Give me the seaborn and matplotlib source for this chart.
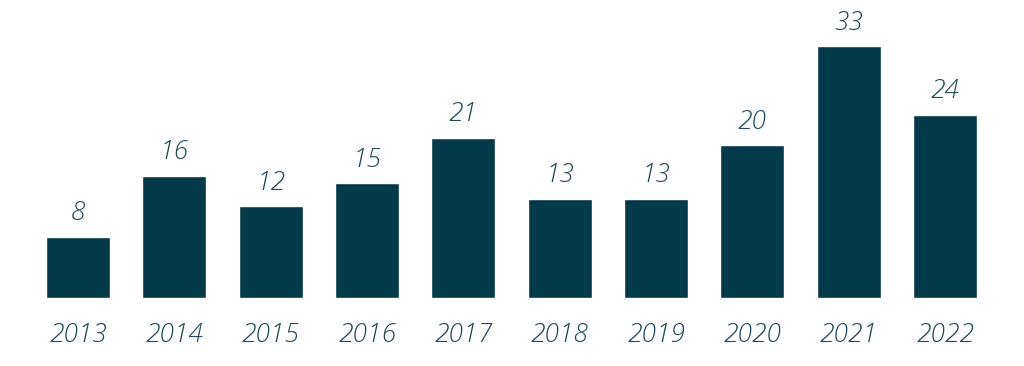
import matplotlib
matplotlib.use("Agg")
import matplotlib.pyplot as plt
import seaborn as sns
import pandas as pd

years = ["2013", "2014", "2015", "2016", "2017", "2018", "2019", "2020", "2021", "2022"]
values = [8, 16, 12, 15, 21, 13, 13, 20, 33, 24]

sns.set_theme(style="white")
plt.rcParams['font.family'] = ['Open Sans', 'DejaVu Sans']

bar_color = "#023a4a"
text_color = "#1b4a5a"

df = pd.DataFrame({"year": years, "value": values})

fig = plt.figure(figsize=(10.24, 3.66), dpi=100)
ax = fig.add_axes([0.02915, 0.1858, 0.9408, 0.7303])
sns.barplot(data=df, x="year", y="value", color=bar_color, width=0.665,
            saturation=1, ax=ax)
ax.set_xlim(-0.5, len(years) - 0.5)
ax.set_ylim(0, 35)
for s in ax.spines.values():
    s.set_visible(False)
ax.set_yticks([])
ax.set_xlabel("")
ax.set_ylabel("")
ax.tick_params(axis="x", length=0, pad=18)
for lbl in ax.get_xticklabels():
    lbl.set_fontsize(19)
    lbl.set_style("italic")
    lbl.set_fontweight(300)
    lbl.set_color(text_color)

for i, v in enumerate(values):
    ax.annotate(str(v), (i, v), xytext=(0, 16.5), textcoords="offset points",
                ha="center", va="center", fontsize=19, fontstyle="italic",
                fontweight=300, color=text_color)

fig.savefig("out.png", dpi=100)
